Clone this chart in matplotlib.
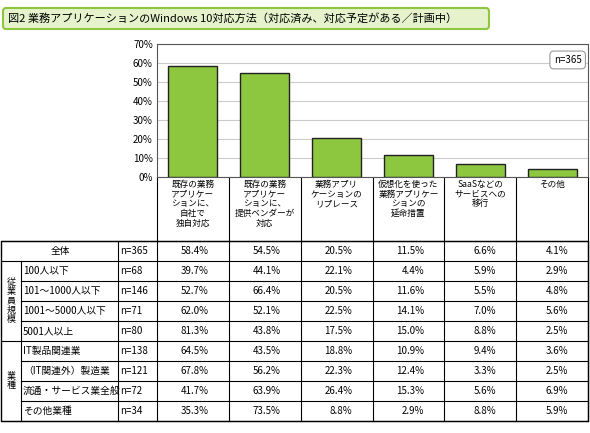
import matplotlib
matplotlib.use("Agg")
import matplotlib.pyplot as plt
from matplotlib.patches import FancyBboxPatch, Rectangle

plt.rcParams['font.family'] = ['Noto Sans CJK JP', 'DejaVu Sans']

title = "図2 業務アプリケーションのWindows 10対応方法（対応済み、対応予定がある／計画中）"
categories = ["既存の業務\nアプリケー\nションに、\n自社で\n独自対応",
              "既存の業務\nアプリケー\nションに、\n提供ベンダーが\n対応",
              "業務アプリ\nケーションの\nリプレース",
              "仮想化を使った\n業務アプリケー\nションの\n延命措置",
              "SaaSなどの\nサービスへの\n移行",
              "その他"]
overall = [58.4, 54.5, 20.5, 11.5, 6.6, 4.1]
yticks = [0, 10, 20, 30, 40, 50, 60, 70]
groups = [("従\n業\n員\n規\n模", 1, 4), ("業\n種", 5, 4)]
row_labels = ["全体", "100人以下", "101～1000人以下", "1001～5000人以下", "5001人以上",
              "IT製品関連業", "（IT関連外）製造業", "流通・サービス業全般", "その他業種"]
row_n = ["n=365", "n=68", "n=146", "n=71", "n=80", "n=138", "n=121", "n=72", "n=34"]
table = [
    [58.4, 54.5, 20.5, 11.5, 6.6, 4.1],
    [39.7, 44.1, 22.1, 4.4, 5.9, 2.9],
    [52.7, 66.4, 20.5, 11.6, 5.5, 4.8],
    [62.0, 52.1, 22.5, 14.1, 7.0, 5.6],
    [81.3, 43.8, 17.5, 15.0, 8.8, 2.5],
    [64.5, 43.5, 18.8, 10.9, 9.4, 3.6],
    [67.8, 56.2, 22.3, 12.4, 3.3, 2.5],
    [41.7, 63.9, 26.4, 15.3, 5.6, 6.9],
    [35.3, 73.5, 8.8, 2.9, 8.8, 5.9],
]

W, H = 590, 433
fig = plt.figure(figsize=(W/100, H/100), dpi=100)
bg = fig.add_axes([0, 0, 1, 1])
bg.set_xlim(0, W); bg.set_ylim(H, 0); bg.axis('off')

L, R, T, B = 157, 588, 44, 177
ax = fig.add_axes([L/W, 1-B/H, (R-L)/W, (B-T)/H])
x = list(range(len(overall)))
ax.bar(x, overall, width=0.68, color='#8dc63f', edgecolor='#222222', linewidth=1.0, zorder=3)
ax.set_xlim(-0.5, len(overall)-0.5)
ax.set_ylim(0, 70)
ax.set_yticks(yticks)
ax.set_yticklabels([f"{v}%" for v in yticks], fontsize=7)
ax.set_xticks([])
ax.grid(axis='y', color='#cccccc', linewidth=0.8, zorder=0)
ax.tick_params(axis='y', length=0, pad=3)
for s in ax.spines.values():
    s.set_color('#555555')
ax.text(0.985, 0.88, "n=365", transform=ax.transAxes, ha='right', va='center', fontsize=7,
        bbox=dict(boxstyle='round,pad=0.4', fc='white', ec='#999999', lw=0.8))

# title box
bg.add_patch(FancyBboxPatch((3, 8), 486, 21, boxstyle='round,pad=0,rounding_size=3',
                            fc='#e6f2cc', ec='#8dc63f', lw=1.5))
bg.text(8, 18.5, title, ha='left', va='center', fontsize=8)

# category label cells
colw = (R-L)/6
lc = 'k'
for i, c in enumerate(categories):
    bg.text(L + colw*(i+0.5), 180, c, ha='center', va='top', fontsize=6.2, linespacing=1.1)
for i in range(7):
    bg.plot([L+colw*i]*2, [B, 241], color=lc, lw=0.8)

# table
top = 241; rh = 20
bot = top + rh*len(row_labels)
bg.add_patch(Rectangle((1, top), R-1, bot-top, fill=False, ec=lc, lw=1.0))
for r in range(len(row_labels)+1):
    y = top + rh*r
    x0 = 1 if r in (0, 1, 5, 9) else 21
    bg.plot([x0, R], [y, y], color=lc, lw=0.8)
bg.plot([21, 21], [top+rh, bot], color=lc, lw=0.8)
bg.plot([118, 118], [top, bot], color=lc, lw=0.8)
for i in range(7):
    bg.plot([L+colw*i]*2, [top, bot], color=lc, lw=0.8)
for g, start, cnt in groups:
    bg.text(11, top+rh*(start+cnt/2), g, ha='center', va='center', fontsize=6.5, linespacing=1.0)
for r, (lab, n, vals) in enumerate(zip(row_labels, row_n, table)):
    yc = top + rh*(r+0.5)
    if r == 0:
        bg.text(60, yc, lab, ha='center', va='center', fontsize=7)
    else:
        bg.text(23, yc, lab, ha='left', va='center', fontsize=7)
    bg.text(120, yc, n, ha='left', va='center', fontsize=7)
    for i, v in enumerate(vals):
        bg.text(L + colw*i + colw*0.72, yc, f"{v:.1f}%", ha='right', va='center', fontsize=7)

fig.savefig("out.png", dpi=100)
